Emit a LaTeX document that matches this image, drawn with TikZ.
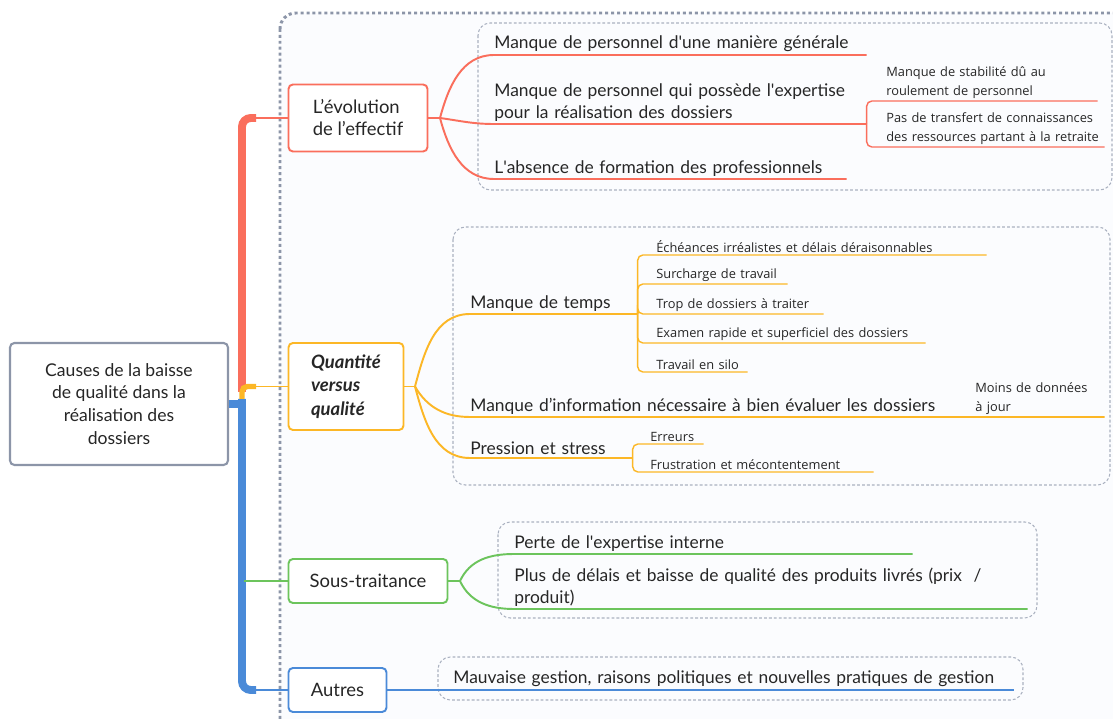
\documentclass[tikz,border=0pt]{standalone}
\usepackage{fontspec}
\setmainfont{Lato}
\newfontfamily\smallfont{Open Sans}
\usetikzlibrary{positioning,calc}
\definecolor{mmred}{RGB}{250,110,92}
\definecolor{mmorange}{RGB}{252,183,38}
\definecolor{mmgreen}{RGB}{108,196,92}
\definecolor{mmblue}{RGB}{74,138,216}
\definecolor{mmgrey}{RGB}{140,149,168}
\definecolor{mmdash}{RGB}{170,177,192}
\definecolor{mmtext}{RGB}{38,38,38}
\definecolor{mmback}{RGB}{251,252,254}

\begin{document}
\begin{tikzpicture}[x=0.02cm, y=-0.02cm,
    every node/.style={text=mmtext},
    rootbox/.style={draw=mmgrey, line width=1.2pt, fill=white, rounded corners=2.5pt,
        align=center, minimum width=4.36cm, minimum height=2.44cm, inner sep=0pt,
        font=\fontsize{10}{13}\selectfont},
    topic/.style={draw=#1, line width=1.1pt, fill=white, rounded corners=2.5pt,
        inner sep=0pt, font=\fontsize{10.5}{12.5}\selectfont},
    leaf/.style={anchor=south west, inner xsep=0pt, inner ysep=1.5pt, align=left,
        font=\fontsize{9.9}{12.5}\selectfont},
    twig/.style={anchor=south west, inner xsep=0pt, inner ysep=1.2pt, align=left,
        font=\smallfont\fontsize{7.3}{10.8}\selectfont},
    trunk/.style={line width=4.5pt, rounded corners=5pt},
    branchline/.style={line width=1.1pt},
    twigline/.style={line width=0.8pt, rounded corners=3pt},
    groupbox/.style={draw=mmdash, line width=0.6pt, dash pattern=on 1.6pt off 1.2pt,
        rounded corners=7pt},
    outerbox/.style={draw=mmgrey, line width=1.7pt, dash pattern=on 1.7pt off 1.7pt,
        fill=mmback, rounded corners=9pt}
]
    \useasboundingbox (0,0) rectangle (1113,719);
    \clip (0,0) rectangle (1113,719);

    % Frames
    \draw[outerbox] (280,13) rectangle (1140,745);
    \draw[groupbox] (478,23) rectangle (1112,190);
    \draw[groupbox] (453,227) rectangle (1110,485);
    \draw[groupbox] (498,522) rectangle (1037,618);
    \draw[groupbox] (438,657) rectangle (1023,700);

    % Root and main topics
    \node[rootbox] (root) at (119,404) {Causes de la baisse\\de qualité dans la\\réalisation des\\dossiers};
    \node[topic=mmred, minimum width=2.78cm, minimum height=1.34cm, align=left] (evo) at (358,118)
        {L’évolution\\de l’effectif};
    \node[topic=mmorange, minimum width=2.3cm, minimum height=1.74cm, align=left,
        font=\fontsize{10.5}{13.5}\selectfont\bfseries\itshape] (qual) at (346,386.5)
        {Quantité\\versus\\qualité};
    \node[topic=mmgreen, minimum width=3.18cm, minimum height=0.88cm] (sous) at (368,581) {Sous-traitance};
    \node[topic=mmblue, minimum width=1.96cm, minimum height=0.88cm] (autres) at (337.5,690) {Autres};

    % Trunk
    \coordinate (hub) at (242,404);
    \coordinate (redbase) at (242,392);
    \coordinate (redknee) at (256,118);
    \coordinate (orangebase) at (242,399);
    \coordinate (orangeknee) at (256,386.5);
    \coordinate (bluetop) at (242,399);
    \coordinate (blueknee) at (256,690);
    \coordinate (greenbase) at (244,581);
    \draw[mmred, trunk] (redbase) |- (redknee);
    \draw[mmred, branchline] (redknee) -- (evo.west);
    \draw[mmblue, trunk] (bluetop) |- (blueknee);
    \draw[mmblue, branchline] (blueknee) -- (autres.west);
    \draw[mmorange, line width=3pt, rounded corners=3pt] (orangebase) |- (orangeknee);
    \draw[mmorange, branchline] (orangeknee) -- (qual.west);
    \draw[mmgreen, branchline] (greenbase) -- (sous.west);
    \draw[mmblue, line width=4.5pt] (root.east) -- (hub);

    % L'évolution de l'effectif
    \node[leaf, text width=7.44cm] (e1) at (494,55) {Manque de personnel d\textquotesingle une manière générale};
    \node[leaf, text width=7.44cm] (e2) at (494,124) {Manque de personnel qui possède l\textquotesingle expertise\\pour la réalisation des dossiers};
    \node[leaf, text width=7.04cm] (e3) at (494,179) {L\textquotesingle absence de formation des professionnels};
    \node[twig, text width=4.22cm] (e21) at (886,101) {Manque de stabilité dû au\\roulement de personnel};
    \node[twig, text width=4.36cm] (e22) at (886,147) {Pas de transfert de connaissances\\des ressources partant à la retraite};

    \coordinate (evofan) at (440,118);
    \draw[mmred, branchline] (evo.east) -- (evofan);
    \draw[mmred, branchline] (evofan) to[out=75,in=180] (e1.south west) -- (e1.south east);
    \draw[mmred, branchline] (evofan) to[out=-8,in=180] (e2.south west) -- (e2.south east);
    \draw[mmred, branchline] (evofan) to[out=-75,in=180] (e3.south west) -- (e3.south east);
    \draw[mmred, twigline] (e2.south east) |- (e21.south west) -- (e21.south east);
    \draw[mmred, twigline] (e2.south east) |- (e22.south west) -- (e22.south east);

    % Quantité versus qualité
    \node[leaf, text width=3.34cm] (q1) at (470,314) {Manque de temps};
    \node[leaf, text width=9.6cm] (q2) at (470,417) {Manque d’information nécessaire à bien évaluer les dossiers};
    \node[twig, text width=2.58cm] (q21) at (975,417) {Moins de données\\à jour};
    \node[leaf, text width=3.24cm] (q3) at (470,458) {Pression et stress};
    \node[twig, text width=6.6cm] (q11) at (656,255) {Échéances irréalistes et délais déraisonnables};
    \node[twig, text width=2.62cm] (q12) at (656,284) {Surcharge de travail};
    \node[twig, text width=3.34cm] (q13) at (656,314) {Trop de dossiers à traiter};
    \node[twig, text width=5.38cm] (q14) at (656,343) {Examen rapide et superficiel des dossiers};
    \node[twig, text width=1.82cm] (q15) at (656,372) {Travail en silo};
    \node[twig, text width=1.06cm] (q31) at (650,444) {Erreurs};
    \node[twig, text width=4.46cm] (q32) at (650,472) {Frustration et mécontentement};

    \coordinate (qualfan) at (415,386.5);
    \draw[mmorange, branchline] (qual.east) -- (qualfan);
    \draw[mmorange, branchline] (qualfan) to[out=75,in=180] (q1.south west) -- (q1.south east);
    \draw[mmorange, branchline] (qualfan) to[out=-60,in=180] (q2.south west) -- (q2.south east)
        -- (q21.south west) -- (q21.south east);
    \draw[mmorange, branchline] (qualfan) to[out=-75,in=180] (q3.south west) -- (q3.south east);
    \foreach \leafname in {q11,q12,q13,q14,q15}
        \draw[mmorange, twigline] (q1.south east) |- (\leafname.south west) -- (\leafname.south east);
    \foreach \leafname in {q31,q32}
        \draw[mmorange, twigline] (q3.south east) |- (\leafname.south west) -- (\leafname.south east);

    % Sous-traitance
    \node[leaf, text width=7.96cm] (s1) at (514,554) {Perte de l\textquotesingle expertise interne};
    \node[leaf, text width=10.26cm, font=\fontsize{9.9}{12}\selectfont] (s2) at (514,609)
        {Plus de délais et baisse de qualité des produits livrés (prix~~/\\produit)};

    \coordinate (sousfan) at (460,581);
    \draw[mmgreen, branchline] (sous.east) -- (sousfan);
    \draw[mmgreen, branchline] (sousfan) to[out=65,in=180] (s1.south west) -- (s1.south east);
    \draw[mmgreen, branchline] (sousfan) to[out=-65,in=180] (s2.south west) -- (s2.south east);

    % Autres
    \node[leaf, text width=11.2cm] (a1) at (453,690) {Mauvaise gestion, raisons politiques et nouvelles pratiques de gestion};
    \draw[mmblue, branchline] (autres.east) -- (a1.south west) -- (a1.south east);
\end{tikzpicture}
\end{document}
